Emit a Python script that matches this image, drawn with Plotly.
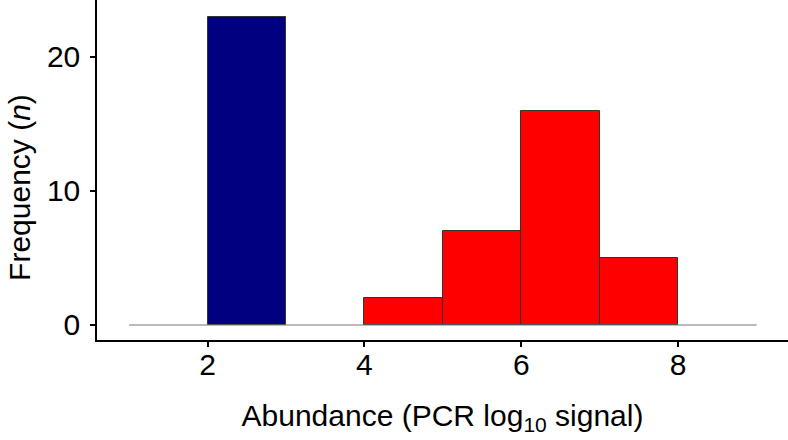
import plotly.graph_objects as go

# Data
bin_left = [2, 4, 5, 6, 7]
bin_width = [1, 1, 1, 1, 1]
counts = [23, 2, 7, 16, 5]
bar_colors = ["#000080", "#FF0000", "#FF0000", "#FF0000", "#FF0000"]
baseline_x = [1, 9]
baseline_y = [0, 0]
x_ticks = [2, 4, 6, 8]
y_ticks = [0, 10, 20]
x_title = "Abundance (PCR log<sub>10</sub> signal)"
y_title = "Frequency (<i>n</i>)"

fig = go.Figure()
fig.add_trace(go.Scatter(x=baseline_x, y=baseline_y, mode="lines",
                         line=dict(color="#777777", width=1.2),
                         hoverinfo="skip", showlegend=False))
fig.add_trace(go.Bar(x=bin_left, y=counts, width=bin_width, offset=0,
                     marker=dict(color=bar_colors, line=dict(color="#333333", width=1)),
                     showlegend=False))

font_family = "Liberation Sans, Arial, Helvetica, sans-serif"
fig.update_layout(
    width=788, height=440,
    margin=dict(l=97, r=0, t=0, b=100),
    plot_bgcolor="white", paper_bgcolor="white",
    font=dict(family=font_family, color="black", size=30),
    bargap=0,
    xaxis=dict(range=[0.59, 9.4], tickvals=x_ticks, ticks="outside", ticklen=5,
               tickwidth=1.5, tickcolor="black", showline=True, linecolor="black",
               linewidth=1.5, showgrid=False, zeroline=False, automargin=False,
               tickfont=dict(size=30), ticklabelstandoff=-8,
               title=dict(text=x_title, font=dict(size=30), standoff=25)),
    yaxis=dict(range=[-1.12, 24.25], tickvals=y_ticks, ticks="outside", ticklen=5,
               tickwidth=1.5, tickcolor="black", showline=True, linecolor="black",
               linewidth=1.5, showgrid=False, zeroline=False, automargin=False,
               tickfont=dict(size=30), ticklabelstandoff=4),
    annotations=[dict(text=y_title, textangle=-90, xref="paper", yref="paper",
                      x=-0.113, y=0.45, xanchor="center", yanchor="middle",
                      showarrow=False, font=dict(size=30))],
)
fig.write_html("out.html", config={"displayModeBar": False},
               post_script="document.body.style.margin='0';")
